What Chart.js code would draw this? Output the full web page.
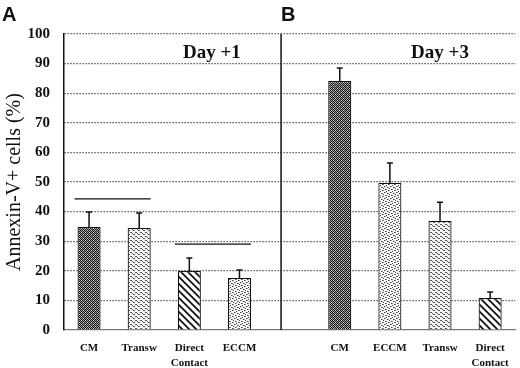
<!DOCTYPE html>
<html>
<head>
<meta charset="utf-8">
<script src="https://cdn.jsdelivr.net/npm/chart.js@4/dist/chart.umd.min.js"></script>
<style>
  html, body { margin: 0; padding: 0; background: #fff; }
  #wrap { width: 520px; height: 368px; position: relative; }
</style>
</head>
<body>
<div id="wrap"><canvas id="chart"></canvas></div>
<script>
// data
const categories = ['CM', 'Transw', ['Direct', 'Contact'], 'ECCM', '', 'CM', 'ECCM', 'Transw', ['Direct', 'Contact']];
const means = [34.8, 34.5, 19.9, 17.6, null, 84.1, 49.7, 36.8, 10.8];
const errors = [5.1, 5.0, 4.4, 2.7, null, 4.4, 6.7, 6.4, 2.0];
const fillKinds = ['cm', 'transw', 'direct', 'eccm', null, 'cm', 'eccm', 'transw', 'direct'];
const yTicks = [0, 10, 20, 30, 40, 50, 60, 70, 80, 90, 100];

// significance bars (category index from/to, level)
const sigFrom = [0, 2];
const sigTo = [1, 3];
const sigLevel = [44.3, 29];

const panelLetters = ['A', 'B'];
const dayLabels = ['Day +1', 'Day +3'];
const dayAt = [2.45, 7.0];     // category position
const dayLevel = 93.6;

function makePattern(kind) {
    const c = document.createElement('canvas');
    const g = c.getContext('2d');
    if (kind === 'cm') {
        c.width = 4; c.height = 4;
        g.fillStyle = '#9a9a9a'; g.fillRect(0, 0, 4, 4);
        g.fillStyle = '#111';
        [[0,0],[2,0],[1,1],[3,1],[0,2],[2,2],[1,3],[3,3]].forEach(p => g.fillRect(p[0], p[1], 1, 1));
        g.fillStyle = '#ddd';
        g.fillRect(1, 0, 1, 1); g.fillRect(3, 2, 1, 1);
    } else if (kind === 'transw') {
        c.width = 5; c.height = 4;
        g.fillStyle = '#f4f4f4'; g.fillRect(0, 0, 5, 4);
        g.fillStyle = '#555';
        g.fillRect(0, 0, 2, 1); g.fillRect(3, 2, 2, 1); g.fillRect(2, 1, 1, 1);
    } else if (kind === 'eccm') {
        c.width = 6; c.height = 6;
        g.fillStyle = '#fafafa'; g.fillRect(0, 0, 6, 6);
        g.fillStyle = '#444';
        [[0,0],[3,1],[1,3],[4,4],[2,5],[5,2]].forEach(p => g.fillRect(p[0], p[1], 1, 1));
        g.fillStyle = '#888';
        [[1,0],[4,1],[2,3],[5,4]].forEach(p => g.fillRect(p[0], p[1], 1, 1));
    } else {
        c.width = 7; c.height = 7;
        g.fillStyle = '#fff'; g.fillRect(0, 0, 7, 7);
        g.strokeStyle = '#111'; g.lineWidth = 1.8;
        g.beginPath();
        g.moveTo(-1, -1); g.lineTo(8, 8);
        g.moveTo(-8, -1); g.lineTo(1, 8);
        g.moveTo(6, -1); g.lineTo(15, 8);
        g.stroke();
    }
    return g.createPattern(c, 'repeat');
}

const patterns = {};
['cm', 'transw', 'eccm', 'direct'].forEach(k => patterns[k] = makePattern(k));

const serif = '"Liberation Serif", "Times New Roman", serif';

const extrasPlugin = {
    id: 'extras',
    afterDatasetsDraw(chart) {
        const ctx = chart.ctx;
        const x = chart.scales.x, y = chart.scales.y;
        const area = chart.chartArea;
        const bars = chart.getDatasetMeta(0).data;
        ctx.save();

        // upper error bars
        ctx.strokeStyle = '#111';
        ctx.lineWidth = 1.5;
        means.forEach((m, i) => {
            if (m === null) return;
            const bx = bars[i].x;
            const yTop = y.getPixelForValue(m);
            const yErr = y.getPixelForValue(m + errors[i]);
            ctx.beginPath();
            ctx.moveTo(bx, yTop); ctx.lineTo(bx, yErr);
            ctx.moveTo(bx - 3, yErr); ctx.lineTo(bx + 3, yErr);
            ctx.stroke();
        });

        // significance lines
        ctx.lineWidth = 1.2;
        sigLevel.forEach((lv, i) => {
            const a = bars[sigFrom[i]], b = bars[sigTo[i]];
            const yy = y.getPixelForValue(lv);
            ctx.beginPath();
            ctx.moveTo(a.x - a.width / 2 - 3, yy);
            ctx.lineTo(b.x + b.width / 2, yy);
            ctx.stroke();
        });

        // panel divider
        const step = x.getPixelForValue(5) - x.getPixelForValue(4);
        const dx = x.getPixelForValue(4) - step * 0.17;
        ctx.lineWidth = 1.5;
        ctx.beginPath();
        ctx.moveTo(dx, area.top); ctx.lineTo(dx, area.bottom);
        ctx.stroke();

        // day labels
        ctx.fillStyle = '#111';
        ctx.font = 'bold 19px ' + serif;
        ctx.textAlign = 'center';
        ctx.textBaseline = 'middle';
        dayLabels.forEach((t, i) => {
            const px = x.getPixelForValue(0) + dayAt[i] * step;
            ctx.fillText(t, px, y.getPixelForValue(dayLevel));
        });

        // panel letters
        ctx.font = 'bold 20px "Liberation Sans", Arial, sans-serif';
        ctx.textAlign = 'left';
        ctx.fillText(panelLetters[0], 2, 15);
        ctx.fillText(panelLetters[1], dx, 15);
        ctx.restore();
    }
};

new Chart(document.getElementById('chart'), {
    type: 'bar',
    data: {
        labels: categories,
        datasets: [{
            data: means,
            backgroundColor: fillKinds.map(k => k ? patterns[k] : 'transparent'),
            borderColor: '#111',
            borderWidth: 1.2,
            barPercentage: 0.46,
            categoryPercentage: 1.0
        }]
    },
    options: {
        responsive: true,
        maintainAspectRatio: false,
        animation: false,
        layout: { padding: { top: 34, right: 4, bottom: 0, left: 0 } },
        plugins: { legend: { display: false }, tooltip: { enabled: false } },
        scales: {
            x: {
                grid: { display: false, drawTicks: false },
                border: { display: true, color: '#777', width: 1.2 },
                ticks: {
                    color: '#111',
                    padding: 11,
                    maxRotation: 0,
                    autoSkip: false,
                    font: { family: serif, size: 11, weight: 'bold', lineHeight: 1.35 }
                },
                afterFit(s) { s.height = 38; }
            },
            y: {
                min: 0,
                max: 100,
                afterBuildTicks(s) { s.ticks = yTicks.map(v => ({ value: v })); },
                grid: {
                    drawTicks: false,
                    color: ctx => ctx.tick && ctx.tick.value === 0 ? 'transparent' : '#333',
                    lineWidth: 1.2
                },
                border: { display: true, color: '#111', width: 1.5, dash: [1.2, 1.8] },
                ticks: {
                    color: '#111',
                    padding: 14,
                    font: { family: serif, size: 15, weight: 'bold' }
                },
                title: {
                    display: true,
                    text: 'Annexin-V+ cells (%)',
                    color: '#111',
                    padding: { top: 3, bottom: 0 },
                    font: { family: serif, size: 20 }
                },
                afterFit(s) { s.width = 64; }
            }
        }
    },
    plugins: [extrasPlugin]
});
</script>
</body>
</html>
